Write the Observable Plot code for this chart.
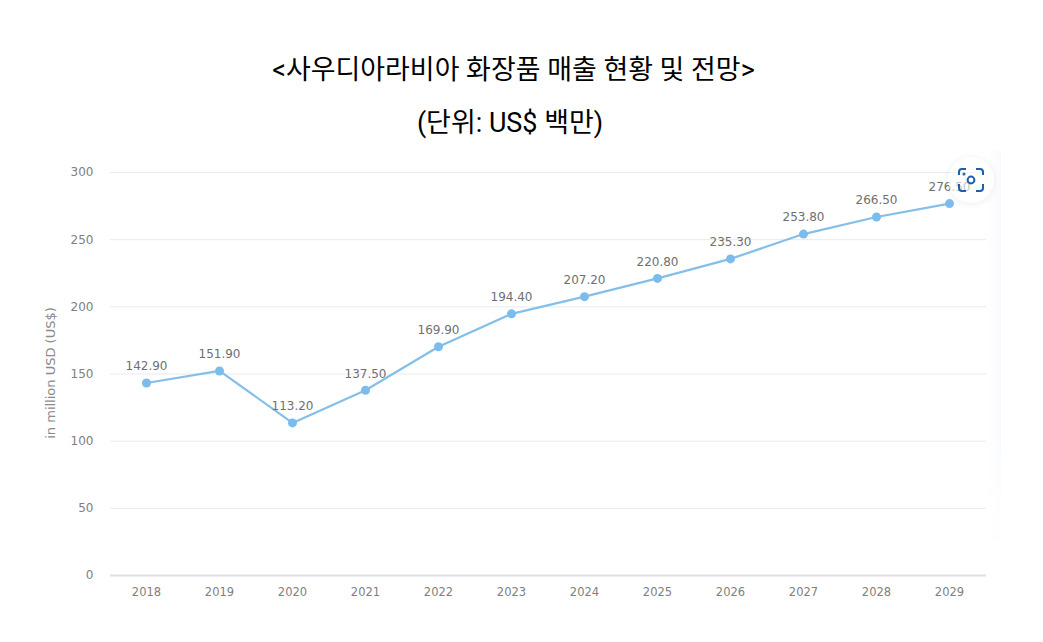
<!DOCTYPE html>
<html lang="ko">
<head>
<meta charset="utf-8">
<script src="https://cdn.jsdelivr.net/npm/d3@7"></script>
<script src="https://cdn.jsdelivr.net/npm/@observablehq/plot@0.6"></script>
<style>
  html, body { margin: 0; padding: 0; background: #fff; width: 1043px; height: 642px; overflow: hidden; }
  #page { position: relative; width: 1043px; height: 642px; }
  .head { position: absolute; text-align: center; font-family: Roboto, "Noto Sans CJK KR", sans-serif; font-size: 26.95px; color: #000; line-height: 36px; white-space: nowrap; }
  #chart { position: absolute; left: 0; top: 150px; }
  #fade { position: absolute; left: 986px; top: 150px; width: 15px; height: 410px; background: linear-gradient(to right, rgba(246,248,253,0), rgba(246,248,253,.6)); -webkit-mask-image: linear-gradient(to bottom, #000 70%, transparent); mask-image: linear-gradient(to bottom, #000 70%, transparent); }
  #snap { position: absolute; left: 948px; top: 157px; width: 46px; height: 46px; border-radius: 50%; background: rgba(255,255,255,.6); box-shadow: 0 1px 7px rgba(0,0,0,.08); }
</style>
</head>
<body>
<div id="page">
  <div class="head" style="top:52px;left:0;width:1027px">&lt;사우디아라비아 화장품 매출 현황 및 전망&gt;</div>
  <div class="head" style="top:105px;left:0;width:1020px">(단위: US$ 백만)</div>
  <div id="chart"></div>
  <div id="fade"></div>
  <div id="snap">
    <svg width="46" height="46" viewBox="0 0 46 46" fill="none" stroke="#1a5fa8" stroke-width="2">
      <path d="M11 18v-3a3 3 0 0 1 3-3h4M28 12h4a3 3 0 0 1 3 3v3M35 27v4a3 3 0 0 1-3 3h-4M18 34h-4a3 3 0 0 1-3-3v-4"/>
      <circle cx="23" cy="23" r="3.4"/>
      <circle cx="16" cy="17" r="0.6"/>
    </svg>
  </div>
</div>
<script>
const years = ["2018","2019","2020","2021","2022","2023","2024","2025","2026","2027","2028","2029"];
const sales = [142.9,151.9,113.2,137.5,169.9,194.4,207.2,220.8,235.3,253.8,266.5,276.5];
const yTicks = [0,50,100,150,200,250,300];
const yTitle = "in million USD (US$)";
const rows = years.map((year, i) => ({year, value: sales[i]}));
const font = "'DejaVu Sans', sans-serif";

const plot = Plot.plot({
  width: 1043,
  height: 450,
  marginLeft: 110,
  marginRight: 57,
  marginTop: 22,
  marginBottom: 25,
  style: {fontFamily: font, background: "transparent", overflow: "visible"},
  x: {type: "point", domain: years, padding: 0.5},
  y: {domain: [0, 300]},
  marks: [
    Plot.ruleY(yTicks.filter(d => d > 0), {stroke: "#e8eaef", strokeWidth: 1}),
    Plot.ruleY([0], {stroke: "#dcdfeb", strokeWidth: 2}),
    Plot.axisX({tickSize: 0, tickPadding: 12, fontSize: 11.5, stroke: "none", fill: "#808080", label: null, dx: -1, style: "letter-spacing:.8px"}),
    Plot.axisY({ticks: yTicks, tickSize: 0, tickPadding: 17, fontSize: 12, fill: "#808080", label: null, style: "letter-spacing:.2px"}),
    Plot.text([yTitle], {frameAnchor: "left", textAnchor: "middle", rotate: -90, dx: -60, dy: -1, fontSize: 13, fill: "#8a8a8a", style: "letter-spacing:.7px"}),
    Plot.line(rows, {x: "year", y: "value", stroke: "#84bfe9", strokeWidth: 2.2, dx: -1, dy: -0.5}),
    Plot.dot(rows, {x: "year", y: "value", r: 4.5, fill: "#7cbcec", dx: -1, dy: -0.5}),
    Plot.text(rows, {x: "year", y: "value", text: d => d.value.toFixed(2), dx: -1, dy: -17, fontSize: 12, fill: "#707070", style: "letter-spacing:.4px"})
  ]
});
document.getElementById("chart").append(plot);
</script>
</body>
</html>
